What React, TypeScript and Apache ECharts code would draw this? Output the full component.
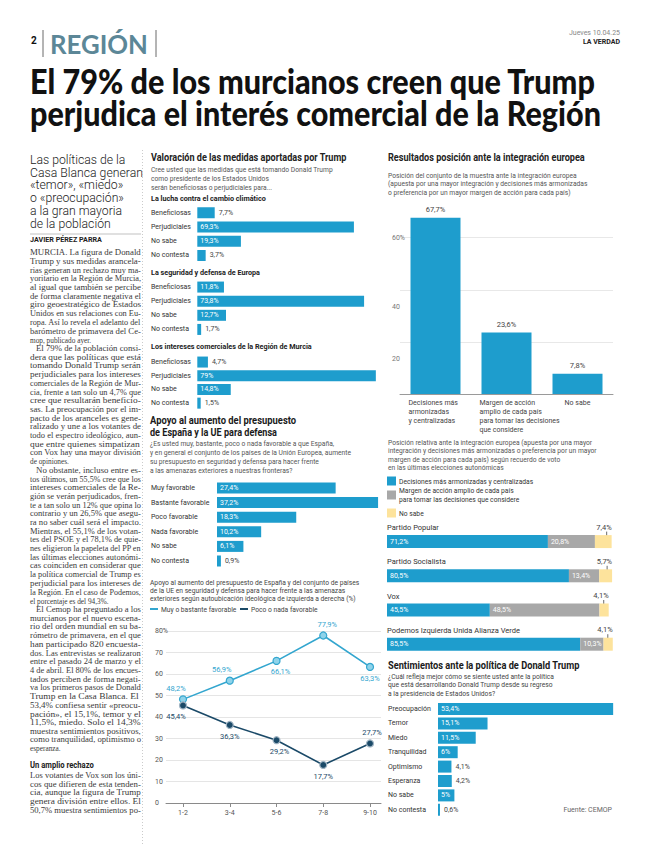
import React, { useEffect, useRef } from 'react';
import * as echarts from 'echarts';

// ---------------- DATA ----------------
const valoracionCats = ['Beneficiosas', 'Perjudiciales', 'No sabe', 'No contesta'];
const climaVals = [7.7, 69.3, 19.3, 3.7];
const europaVals = [11.8, 73.8, 12.7, 1.7];
const murciaVals = [4.7, 79, 14.8, 1.5];

const defensaCats = ['Muy favorable', 'Bastante favorable', 'Poco favorable', 'Nada favorable', 'No sabe', 'No contesta'];
const defensaVals = [27.4, 37.2, 18.3, 10.2, 6.1, 0.9];

const ideologiaCats = ['1-2', '3-4', '5-6', '7-8', '9-10'];
const favorableVals = [48.2, 56.9, 66.1, 77.9, 63.3];
const desfavorableVals = [45.4, 36.3, 29.2, 17.7, 27.7];
const ideologiaTicks = [0, 1, 2, 3, 4];

const integracionCats = [
  'Decisiones más\narmonizadas\ny centralizadas',
  'Margen de acción\namplio de cada país\npara tomar las decisiones\nque considere',
  'No sabe',
];
const integracionVals = [67.7, 23.6, 7.8];

const partidosCats = ['Partido Popular', 'Partido Socialista', 'Vox', 'Podemos Izquierda Unida Alianza Verde'];
const armonizadasVals = [71.2, 80.5, 45.5, 85.5];
const margenVals = [20.8, 13.4, 48.5, 10.3];
const noSabeVals = [7.4, 5.7, 4.1, 4.1];

const sentimientosCats = ['Preocupación', 'Temor', 'Miedo', 'Tranquilidad', 'Optimismo', 'Esperanza', 'No sabe', 'No contesta'];
const sentimientosVals = [53.4, 15.1, 11.5, 6, 4.1, 4.2, 5, 0.6];

// ---------------- TEXTS ----------------
const headline = ['El 79% de los murcianos creen que Trump', 'perjudica el interés comercial de la Región'];
const subhead = ['Las políticas de la', 'Casa Blanca generan', '«temor», «miedo»', 'o «preocupación»', 'a la gran mayoria', 'de la población'];
const byline = 'JAVIER PÉREZ PARRA';
const bodyParagraphs = [
  ['MURCIA. La figura de Donald', 'Trump y sus medidas arancela-', 'rias generan un rechazo muy ma-', 'yoritario en la Región de Murcia,', 'al igual que también se percibe', 'de forma claramente negativa el', 'giro geoestratégico de Estados', 'Unidos en sus relaciones con Eu-', 'ropa. Así lo revela el adelanto del', 'barómetro de primavera del Ce-', 'mop, publicado ayer.'],
  ['El 79% de la población consi-', 'dera que las políticas que está', 'tomando Donald Trump serán', 'perjudiciales para los intereses', 'comerciales de la Región de Mur-', 'cia, frente a tan solo un 4,7% que', 'cree que resultarán beneficio-', 'sas. La preocupación por el im-', 'pacto de los aranceles es gene-', 'ralizado y une a los votantes de', 'todo el espectro ideológico, aun-', 'que entre quienes simpatizan', 'con Vox hay una mayor división', 'de opiniones.'],
  ['No obstante, incluso entre es-', 'tos últimos, un 55,5% cree que los', 'intereses comerciales de la Re-', 'gión se verán perjudicados, fren-', 'te a tan solo un 12% que opina lo', 'contrario y un 26,5% que asegu-', 'ra no saber cuál será el impacto.', 'Mientras, el 55,1% de los votan-', 'tes del PSOE y el 78,1% de quie-', 'nes eligieron la papeleta del PP en', 'las últimas elecciones autonómi-', 'cas coinciden en considerar que', 'la política comercial de Trump es', 'perjudicial para los intereses de', 'la Región. En el caso de Podemos,', 'el porcentaje es del 94,3%.'],
  ['El Cemop ha preguntado a los', 'murcianos por el nuevo escena-', 'rio del orden mundial en su ba-', 'rómetro de primavera, en el que', 'han participado 820 encuesta-', 'dos. Las entrevistas se realizaron', 'entre el pasado 24 de marzo y el', '4 de abril. El 80% de los encues-', 'tados perciben de forma negati-', 'va los primeros pasos de Donald', 'Trump en la Casa Blanca. El', '53,4% confiesa sentir «preocu-', 'pación», el 15,1%, temor y el', '11,5%, miedo. Solo el 14,3%', 'muestra sentimientos positivos,', 'como tranquilidad, optimismo o', 'esperanza.'],
];
const bodyHeading = 'Un amplio rechazo';
const bodyTail = ['Los votantes de Vox son los úni-', 'cos que difieren de esta tenden-', 'cia, aunque la figura de Trump', 'genera división entre ellos. El', '50,7% muestra sentimientos po-'];

const valoracionTitle = 'Valoración de las medidas aportadas por Trump';
const valoracionQuestion = ['Cree usted que las medidas que está tomando Donald Trump', 'como presidente de los Estados Unidos', 'serán beneficiosas o perjudiciales para...'];
const valoracionGroups = ['La lucha contra el cambio climático', 'La seguridad y defensa de Europa', 'Los intereses comerciales de la Región de Murcia'];
const defensaTitle = ['Apoyo al aumento del presupuesto', 'de España y la UE para defensa'];
const defensaQuestion = ['¿Es usted muy, bastante, poco o nada favorable a que España,', 'y en general el conjunto de los países de la Unión Europea, aumente', 'su presupuesto en seguridad y defensa para hacer frente', 'a las amenazas exteriores a nuestras fronteras?'];
const ideologiaTitle = ['Apoyo al aumento del presupuesto de España y del conjunto de países', 'de la UE en seguridad y defensa para hacer frente a las amenazas', 'exteriores según autoubicación ideológica de izquierda a derecha (%)'];
const ideologiaSeries = ['Muy o bastante favorable', 'Poco o nada favorable'];
const integracionTitle = 'Resultados posición ante la integración europea';
const integracionSub = ['Posición del conjunto de la muestra ante la integración europea', '(apuesta por una mayor integración y decisiones más armonizadas', 'o preferencia por un mayor margen de acción para cada país)'];
const partidosSub = ['Posición relativa ante la integración europea (apuesta por una mayor', 'integración y decisiones más armonizadas o preferencia por un mayor', 'margen de acción para cada país) según recuerdo de voto', 'en las últimas elecciones autonómicas'];
const partidosLegend = [['Decisiones más armonizadas y centralizadas'], ['Margen de acción amplio de cada país', 'para tomar las decisiones que considere'], ['No sabe']];
const sentimientosTitle = 'Sentimientos ante la política de Donald Trump';
const sentimientosQuestion = ['¿Cuál refleja mejor cómo se siente usted ante la política', 'que está desarrollando Donald Trump desde su regreso', 'a la presidencia de Estados Unidos?'];
const source = 'Fuente: CEMOP';

// ---------------- STYLE ----------------
const SANS = 'Roboto, "Noto Sans", sans-serif';
const SERIF = '"Liberation Serif", "DejaVu Serif", serif';
const HEAD = 'Lato, Roboto, sans-serif';
const BLUE = '#1e9dcd';
const GRAY = '#a8a8a8';
const YELLOW = '#fde39c';
const LIGHT = '#33a6cf';
const DARK = '#1b4a68';
const REGION_COL = '#5c8797';

let _ctx: any = null;
function textWidth(text: string, size: number, weight: string, family: string) {
  if (!_ctx) _ctx = document.createElement('canvas').getContext('2d');
  _ctx.font = `${weight} ${size}px ${family}`;
  return _ctx.measureText(text).width;
}

function txt(x: number, y: number, text: string, o: any) {
  const weight = o.weight || 'normal';
  const family = o.family || SANS;
  let sx = o.sx ?? 1;
  if (o.w) sx = o.w / textWidth(text, o.size, weight, family);
  const align = o.align || 'left';
  return {
    type: 'text', x, y, scaleX: sx, silent: true,
    style: {
      text, x: 0, y: 0, fill: o.color || '#222', fontSize: o.size, fontWeight: weight, fontFamily: family,
      align, verticalAlign: 'middle', textAlign: align, textVerticalAlign: 'middle',
    },
  };
}
function line(x1: number, y1: number, x2: number, y2: number, color: string, width: number, dash?: number[]) {
  return { type: 'line', silent: true, shape: { x1, y1, x2, y2 }, style: { stroke: color, lineWidth: width, lineDash: dash } };
}

const fmt = (v: number) => String(v).replace('.', ',') + '%';

function barLabel(v: number, pxPer: number) {
  const t = fmt(v);
  const inside = v * pxPer >= t.length * 3.8 + 3;
  return inside
    ? { show: true, position: 'insideLeft', distance: 3, color: '#fff' }
    : { show: true, position: 'right', distance: 4, color: '#444' };
}

function hbar(vals: number[], idx: number, pxPer: number, barWidth: number) {
  return {
    type: 'bar', xAxisIndex: idx, yAxisIndex: idx, barWidth,
    itemStyle: { color: BLUE },
    label: { show: true, fontSize: 7, fontFamily: SANS, formatter: (p: any) => fmt(p.value) },
    data: vals.map((v) => ({ value: v, label: barLabel(v, pxPer) })),
  };
}
function catY(idx: number, cats: string[], margin: number) {
  return {
    type: 'category', gridIndex: idx, data: cats, inverse: true,
    axisLine: { show: false }, axisTick: { show: false },
    axisLabel: { align: 'left', margin, fontSize: 7, color: '#333', fontFamily: SANS, interval: 0 },
  };
}
function valX(idx: number, max: number) {
  return { type: 'value', gridIndex: idx, min: 0, max, show: false };
}

function buildGraphics() {
  const g: any[] = [];
  // Header
  g.push(txt(31, 40, '2', { size: 10, weight: 'bold', color: '#111' }));
  g.push(line(43, 30, 43, 57, '#444', 0.8));
  g.push(txt(50, 44, 'REGIÓN', { size: 27, weight: 'bold', color: REGION_COL, w: 98, family: HEAD }));
  g.push(line(156, 30, 156, 57, '#444', 0.8));
  g.push(txt(620, 33, 'Jueves 10.04.25', { size: 7, color: '#888', align: 'right' }));
  g.push(txt(620, 42, 'LA VERDAD', { size: 7, weight: 'bold', color: '#222', align: 'right' }));
  // Headline
  g.push(txt(30, 81, headline[0], { size: 35, weight: '900', color: '#111', w: 566, family: HEAD }));
  g.push(txt(30, 113, headline[1], { size: 35, weight: '900', color: '#111', w: 571, family: HEAD }));

  // Left column
  const subSx = 113 / textWidth(subhead[1], 12.5, '300', SANS);
  subhead.forEach((s, i) => g.push(txt(30, 160 + i * 12.7, s, { size: 12.5, weight: '300', color: '#222', sx: subSx })));
  g.push(line(30, 234, 141, 234, '#999', 0.6));
  g.push(txt(30, 240, byline, { size: 7, weight: 'bold', color: '#222', w: 72 }));

  const BL = 7.3;
  const colR = 141;
  let y = 253;
  const LH = 8.7;
  const baseSx = 1.0;
  const bodyCol = '#3a3a3a';
  bodyParagraphs.forEach((p, pi) => {
    p.forEach((ln, li) => {
      const x0 = pi > 0 && li === 0 ? 36 : 30;
      const last = li === p.length - 1;
      const w = textWidth(ln, BL, 'normal', SERIF);
      let sx = (colR - x0) / w;
      if (last) sx = Math.min(baseSx, sx);
      sx = Math.max(0.7, Math.min(1.3, sx));
      g.push(txt(x0, y, ln, { size: BL, color: bodyCol, family: SERIF, sx }));
      y += LH;
    });
  });
  y += 8;
  g.push(txt(30, y, bodyHeading, { size: 8.5, weight: 'bold', color: '#222', sx: 0.9 }));
  y += 10;
  bodyTail.forEach((ln) => {
    const w = textWidth(ln, BL, 'normal', SERIF);
    const sx = Math.max(0.7, Math.min(1.3, (colR - 30) / w));
    g.push(txt(30, y, ln, { size: BL, color: bodyCol, family: SERIF, sx }));
    y += LH;
  });
  // dotted column separator
  g.push(line(142.5, 150, 142.5, 845, '#b5b5b5', 0.7, [1, 2]));

  // Small text condensation factor
  const CX = 182 / textWidth(valoracionQuestion[0], 7.5, 'normal', SANS);
  const small = (x: number, yy: number, s: string, color = '#555') => txt(x, yy, s, { size: 7.5, color, sx: CX });

  // Middle column: Valoración
  g.push(txt(151, 157, valoracionTitle, { size: 10, weight: 'bold', color: '#222', w: 196 }));
  valoracionQuestion.forEach((s, i) => g.push(small(151, 169 + i * 9, s)));
  const groupY = [198, 272, 346];
  const groupW = [115, 109, 161];
  valoracionGroups.forEach((s, i) => g.push(txt(151, groupY[i], s, { size: 8, weight: 'bold', color: '#222', w: groupW[i] })));

  // Defensa
  g.push(txt(150, 420, defensaTitle[0], { size: 11.5, weight: 'bold', color: '#1a1a1a', w: 146 }));
  g.push(txt(150, 432, defensaTitle[1], { size: 11.5, weight: 'bold', color: '#1a1a1a', w: 127 }));
  defensaQuestion.forEach((s, i) => g.push(small(150, 443 + i * 9, s)));

  // Ideología line chart title + legend
  ideologiaTitle.forEach((s, i) => g.push(small(150, 582 + i * 8.2, s, '#444')));
  g.push(line(150, 609, 158, 609, LIGHT, 2));
  g.push(small(161, 609, ideologiaSeries[0], '#444'));
  g.push(line(240, 609, 248, 609, DARK, 2));
  g.push(small(251, 609, ideologiaSeries[1], '#444'));

  // Right column: integración
  g.push(txt(388, 157, integracionTitle, { size: 10, weight: 'bold', color: '#222', w: 197 }));
  integracionSub.forEach((s, i) => g.push(small(388, 175 + i * 8.5, s)));
  partidosSub.forEach((s, i) => g.push(small(388, 442 + i * 8.5, s)));
  const legCol = [BLUE, GRAY, YELLOW];
  const legY = [481, 495, 513];
  partidosLegend.forEach((lines, i) => {
    g.push({ type: 'rect', silent: true, shape: { x: 387, y: legY[i] - 4.5, width: 9, height: 9 }, style: { fill: legCol[i] } });
    lines.forEach((s, j) => g.push(small(399, legY[i] + (j - (lines.length - 1) / 2) * 8.5, s, '#333')));
  });

  // Sentimientos
  g.push(txt(388, 665, sentimientosTitle, { size: 10, weight: 'bold', color: '#1a1a1a', w: 192 }));
  sentimientosQuestion.forEach((s, i) => g.push(small(388, 676 + i * 8.5, s, '#444')));
  return g;
}

function buildOption() {
  const favLabelPos = ['top', 'top', 'bottom', 'top', 'bottom'];
  const favOffset = [[-7, 0], [-8, 0], [4, 0], [4, 0], [0, 0]];
  const desLabelPos = ['bottom', 'bottom', 'bottom', 'bottom', 'top'];
  const desOffset = [[-7, 0], [0, 0], [3, 0], [0, 0], [2, 0]];

  const lineSeries = (vals: number[], color: string, fill: string, border: string, pos: string[], off: number[][], name: string) => ({
    type: 'line', name, xAxisIndex: 4, yAxisIndex: 4,
    symbol: 'circle', symbolSize: 7,
    lineStyle: { color, width: 1.6 },
    itemStyle: { color: fill, borderColor: border, borderWidth: 1.2 },
    label: { show: true, fontSize: 7.5, color, fontFamily: SANS, distance: 3, formatter: (p: any) => fmt(p.value[1]) },
    data: vals.map((v, i) => ({ value: [i, v], label: { position: pos[i], offset: off[i] } })),
  });

  return {
    animation: false,
    backgroundColor: '#ffffff',
    textStyle: { fontFamily: SANS },
    grid: [
      { left: 197.3, top: 205.6, width: 226, height: 57 },
      { left: 197.3, top: 280, width: 226, height: 56.5 },
      { left: 197.3, top: 355.2, width: 226, height: 54.8 },
      { left: 217, top: 480.7, width: 173.2, height: 87.6 },
      { left: 166, top: 631, width: 215, height: 172 },
      { left: 400, top: 237.7, width: 213, height: 156.3 },
      { left: 387, top: 524.5, width: 226, height: 136.8 },
      { left: 438, top: 701.8, width: 196.8, height: 115.2 },
    ],
    xAxis: [
      valX(0, 100), valX(1, 100), valX(2, 100), valX(3, 40),
      {
        type: 'value', gridIndex: 4, min: -0.364, max: 4.235,
        splitLine: { show: false },
        axisLine: { show: true, lineStyle: { color: '#8a8a8a', width: 1 } },
        axisTick: { show: true, customValues: ideologiaTicks, length: 4, lineStyle: { color: '#8a8a8a' } },
        axisLabel: { customValues: ideologiaTicks, formatter: (v: number) => ideologiaCats[Math.round(v)], fontSize: 7, color: '#555', margin: 6, fontFamily: SANS },
      },
      {
        type: 'category', gridIndex: 5, data: integracionCats,
        axisLine: { show: true, lineStyle: { color: '#9a9a9a' } }, axisTick: { show: false },
        axisLabel: {
          interval: 0, fontSize: 7, lineHeight: 8.8, color: '#444', margin: 5, fontFamily: SANS, verticalAlign: 'top',
          formatter: (v: string) => (v.indexOf('\n') >= 0 ? v.split('\n').map((l) => `{w|${l}}`).join('\n') : v),
          rich: { w: { width: 54, align: 'left', fontSize: 7, lineHeight: 8.8, color: '#444', fontFamily: SANS } },
        },
      },
      valX(6, 100), valX(7, 60),
    ],
    yAxis: [
      catY(0, valoracionCats, 46.3), catY(1, valoracionCats, 46.3), catY(2, valoracionCats, 46.3),
      catY(3, defensaCats, 66),
      {
        type: 'value', gridIndex: 4, min: 0, max: 80, interval: 10,
        axisLine: { show: false }, axisTick: { show: false },
        splitLine: { lineStyle: { color: '#dedede', width: 0.8 } },
        axisLabel: { align: 'left', margin: 11, fontSize: 7, color: '#555', fontFamily: SANS, formatter: (v: number) => (v === 80 ? '80%' : String(v)) },
      },
      {
        type: 'value', gridIndex: 5, min: 0, max: 60, interval: 20,
        axisLine: { show: false }, axisTick: { show: false },
        splitLine: { lineStyle: { color: '#e2e2e2', width: 0.8 } },
        axisLabel: {
          align: 'left', margin: 8, fontSize: 7, color: '#777', fontFamily: SANS,
          formatter: (v: number) => (v === 0 ? '' : v === 60 ? '60%' : `{low|${v}}`),
          rich: { low: { fontSize: 7, color: '#777', fontFamily: SANS, padding: [34, 0, 0, 0] } },
        },
      },
      {
        type: 'category', gridIndex: 6, data: partidosCats, inverse: true,
        axisLine: { show: false }, axisTick: { show: false },
        axisLabel: {
          inside: true, align: 'left', margin: 0, interval: 0,
          formatter: (v: string) => `{n|${v}}`,
          rich: { n: { fontSize: 7.5, color: '#333', fontFamily: SANS, padding: [0, 0, 28, 0] } },
        },
      },
      catY(7, sentimientosCats, 50),
    ],
    series: [
      hbar(climaVals, 0, 2.26, 11),
      hbar(europaVals, 1, 2.26, 11),
      hbar(murciaVals, 2, 2.26, 11),
      hbar(defensaVals, 3, 4.33, 11),
      lineSeries(favorableVals, LIGHT, '#8fd3ea', LIGHT, favLabelPos, favOffset, ideologiaSeries[0]),
      lineSeries(desfavorableVals, DARK, DARK, '#9fb3c2', desLabelPos, desOffset, ideologiaSeries[1]),
      {
        type: 'bar', xAxisIndex: 5, yAxisIndex: 5, barWidth: 50, clip: false,
        itemStyle: { color: BLUE },
        label: { show: true, position: 'top', distance: 4, fontSize: 7.5, color: '#444', fontFamily: SANS, formatter: (p: any) => fmt(p.value) },
        data: integracionVals,
      },
      {
        type: 'bar', stack: 'p', xAxisIndex: 6, yAxisIndex: 6, barWidth: 13,
        itemStyle: { color: BLUE },
        label: { show: true, position: 'insideLeft', distance: 3, fontSize: 7, color: '#fff', fontFamily: SANS, formatter: (p: any) => fmt(p.value) },
        data: armonizadasVals,
      },
      {
        type: 'bar', stack: 'p', xAxisIndex: 6, yAxisIndex: 6, barWidth: 13,
        itemStyle: { color: GRAY },
        label: { show: true, position: 'insideLeft', distance: 3, fontSize: 7, color: '#fff', fontFamily: SANS, formatter: (p: any) => fmt(p.value) },
        data: margenVals,
      },
      {
        type: 'bar', stack: 'p', xAxisIndex: 6, yAxisIndex: 6, barWidth: 13,
        itemStyle: { color: YELLOW },
        label: { show: true, position: ['100%', -8], align: 'right', verticalAlign: 'middle', fontSize: 7.5, color: '#444', fontFamily: SANS, formatter: (p: any) => fmt(p.value) },
        data: noSabeVals,
      },
      hbar(sentimientosVals, 7, 3.28, 12),
    ],
    graphic: { elements: buildGraphics() },
  };
}

export default function App() {
  const ref = useRef<HTMLDivElement>(null);
  useEffect(() => {
    if (!ref.current) return;
    const chart = echarts.init(ref.current, null, { renderer: 'svg', width: 650, height: 852 });
    const option: any = buildOption();
    chart.setOption(option);
    // extras placed through the charts' own scales
    const extra: any[] = [];
    partidosCats.forEach((c, i) => {
      const end = armonizadasVals[i] + margenVals[i] + noSabeVals[i];
      const p = chart.convertToPixel({ gridIndex: 6 } as any, [end - 2.2, c]) as any;
      if (p && isFinite(p[0])) extra.push(line(p[0], p[1] - 10, p[0], p[1] - 1, '#444', 0.8));
    });
    const lastCat = sentimientosCats[sentimientosCats.length - 1];
    const fp = chart.convertToPixel({ gridIndex: 7 } as any, [0, lastCat]) as any;
    const fy = fp && isFinite(fp[1]) ? fp[1] : 810;
    extra.push(txt(612, fy, source, { size: 7, color: '#666', align: 'right' }));
    option.graphic = { elements: option.graphic.elements.concat(extra) };
    chart.setOption(option, true);
    return () => chart.dispose();
  }, []);
  return (
    <div
      ref={ref}
      style={{ position: 'absolute', left: 0, top: 0, width: 650, height: 852, background: '#fff' }}
    />
  );
}
